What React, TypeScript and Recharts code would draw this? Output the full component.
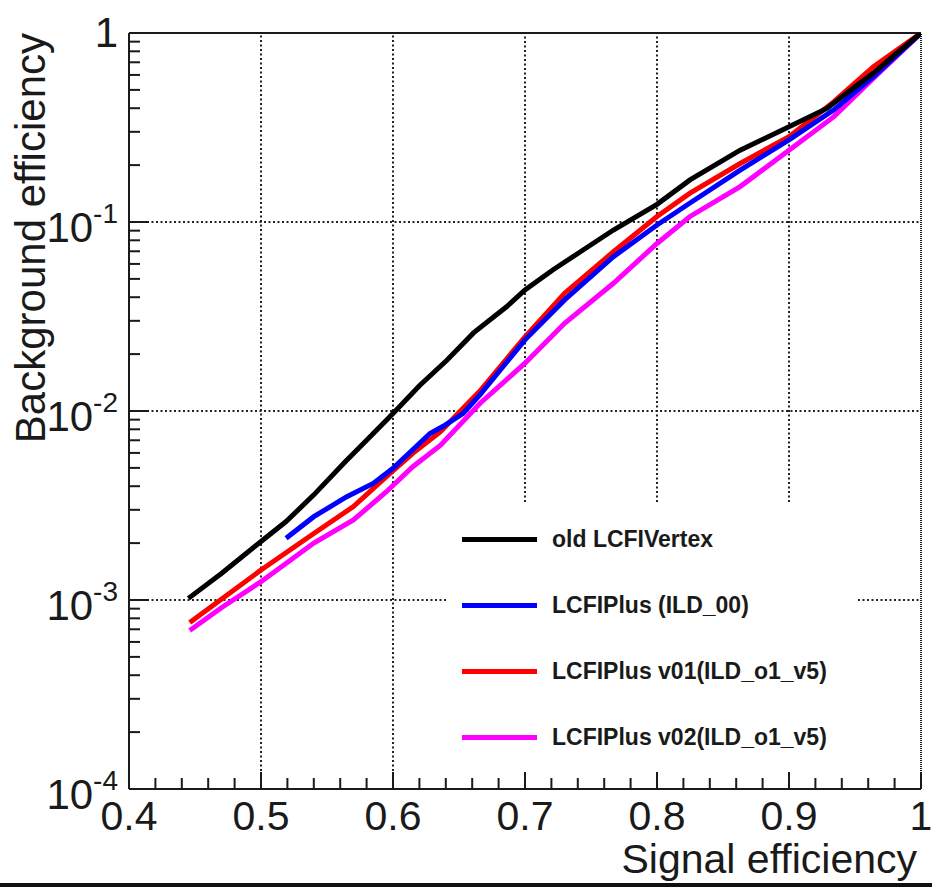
import React from 'react';
import { LineChart, Line, XAxis, YAxis, ReferenceLine, Legend } from 'recharts';

// signal efficiency (x) vs background efficiency (y)
const oldX = [0.445, 0.47, 0.5, 0.519, 0.54, 0.564, 0.58, 0.6, 0.62, 0.641, 0.661, 0.686, 0.7, 0.721, 0.742, 0.767, 0.8, 0.825, 0.863, 0.9, 0.929, 0.95, 0.964, 0.98, 1.0];
const oldY = [0.00102, 0.00138, 0.00204, 0.0026, 0.0036, 0.0054, 0.007, 0.0097, 0.0136, 0.0186, 0.0259, 0.0356, 0.0437, 0.0557, 0.0696, 0.0907, 0.124, 0.167, 0.24, 0.319, 0.4, 0.52, 0.614, 0.765, 1.0];

const ild00X = [0.519, 0.54, 0.565, 0.585, 0.6, 0.628, 0.638, 0.653, 0.666, 0.7, 0.73, 0.767, 0.8, 0.825, 0.863, 0.9, 0.934, 0.964, 1.0];
const ild00Y = [0.00212, 0.00276, 0.00352, 0.00414, 0.00498, 0.0076, 0.0083, 0.0097, 0.0122, 0.0238, 0.0387, 0.0655, 0.0964, 0.126, 0.188, 0.272, 0.392, 0.587, 1.0];

const v01X = [0.446, 0.47, 0.5, 0.54, 0.57, 0.595, 0.615, 0.636, 0.666, 0.7, 0.73, 0.767, 0.8, 0.825, 0.863, 0.9, 0.934, 0.964, 1.0];
const v01Y = [0.00076, 0.00101, 0.00144, 0.00225, 0.00312, 0.0045, 0.00597, 0.00778, 0.0128, 0.0247, 0.042, 0.0696, 0.107, 0.142, 0.204, 0.283, 0.433, 0.664, 1.0];

const v02X = [0.446, 0.47, 0.5, 0.54, 0.57, 0.595, 0.615, 0.636, 0.666, 0.7, 0.73, 0.767, 0.8, 0.825, 0.863, 0.9, 0.934, 0.964, 1.0];
const v02Y = [0.00069, 0.00091, 0.00125, 0.002, 0.00265, 0.00374, 0.00507, 0.0066, 0.011, 0.0179, 0.0291, 0.0474, 0.077, 0.107, 0.154, 0.24, 0.361, 0.576, 1.0];

const legendOrder = ['old LCFIVertex', 'LCFIPlus (ILD_00)', 'LCFIPlus v01(ILD_o1_v5)', 'LCFIPlus v02(ILD_o1_v5)'];

// grid at 0.5, 0.6 runs full height; 0.7-0.9 stop at the legend box top
const xGridFull = [0.5, 0.6];
const xGridShort = [0.7, 0.8, 0.9];
const legendTopY = 0.0033;
const yGrid = [0.1, 0.01, 0.001];
const xTicks = Array.from({ length: 31 }, (_, i) => +(0.4 + i * 0.02).toFixed(2));
const yTicks = [1e-4, 1e-3, 1e-2, 1e-1].flatMap((d) => [1, 2, 3, 4, 5, 6, 7, 8, 9].map((m) => +(m * d).toPrecision(3))).concat([1]);

const pts = (xs: number[], ys: number[]) => xs.map((x, i) => ({ x, y: ys[i] }));

// drawing order: magenta under red under blue under black
const series = [
  { name: 'LCFIPlus v02(ILD_o1_v5)', color: '#ff00ff', data: pts(v02X, v02Y) },
  { name: 'LCFIPlus v01(ILD_o1_v5)', color: '#ff0000', data: pts(v01X, v01Y) },
  { name: 'LCFIPlus (ILD_00)', color: '#0000ff', data: pts(ild00X, ild00Y) },
  { name: 'old LCFIVertex', color: '#000000', data: pts(oldX, oldY) },
];

const font = '"Liberation Sans", Arial, Helvetica, sans-serif';
const ink = '#1a1a1a';
const gridStyle = { stroke: '#222', strokeWidth: 2, strokeDasharray: '2 2.5' };

const isMajorX = (v: number) => Math.abs(v * 10 - Math.round(v * 10)) < 1e-6;
const isMajorY = (v: number) => Math.abs(Math.log10(v) - Math.round(Math.log10(v))) < 1e-6;

const XTick = ({ x, y, payload }: any) => {
  const v = payload.value;
  const major = isMajorX(v);
  return (
    <g>
      <line x1={x} x2={x} y1={y} y2={y - (major ? 17 : 11)} stroke={ink} strokeWidth={2} />
      {major && (
        <text x={x} y={y + 41} textAnchor="middle" fontSize={41} fontFamily={font} fill={ink}>
          {v === 1 ? '1' : v.toFixed(1)}
        </text>
      )}
    </g>
  );
};

const YTick = ({ x, y, payload }: any) => {
  const v = payload.value;
  const major = isMajorY(v);
  const exp = Math.round(Math.log10(v));
  return (
    <g>
      <line x1={x} x2={x + (major ? 20 : 11)} y1={y} y2={y} stroke={ink} strokeWidth={2} />
      {major && (
        <text x={x - 11} y={y + (exp === 0 ? 14 : 20)} textAnchor="end" fontSize={42} fontFamily={font} fill={ink}>
          {exp === 0 ? '1' : '10'}
          {exp !== 0 && (
            <tspan dy={-19} fontSize={28}>
              {String(exp)}
            </tspan>
          )}
        </text>
      )}
    </g>
  );
};

const renderLegend = ({ payload }: any) => {
  const items = legendOrder.map((n) => (payload || []).find((p: any) => p.value === n)).filter(Boolean);
  return (
    <div style={{ position: 'relative', width: 410, height: 268, background: '#fff' }}>
      {items.map((p: any, i: number) => (
        <div
          key={p.value}
          style={{ position: 'absolute', left: 15, top: 36 + i * 66 - 15, height: 30, display: 'flex', alignItems: 'center' }}
        >
          <span style={{ display: 'inline-block', width: 75, height: 5, background: p.color }} />
          <span style={{ marginLeft: 15, fontFamily: font, fontWeight: 'bold', fontSize: 23, color: ink, whiteSpace: 'nowrap' }}>
            {p.value}
          </span>
        </div>
      ))}
    </div>
  );
};

export default function App() {
  return (
    <div style={{ position: 'absolute', left: 0, top: 0, width: 932, height: 887, background: '#fff', overflow: 'hidden' }}>
      <LineChart width={932} height={887} margin={{ top: 33, right: 11, bottom: 68, left: 69 }}>
        <XAxis
          dataKey="x"
          type="number"
          domain={[0.4, 1]}
          ticks={xTicks}
          interval={0}
          allowDataOverflow
          height={30}
          tickSize={0}
          tickMargin={0}
          tickLine={false}
          axisLine={{ stroke: ink, strokeWidth: 2 }}
          tick={<XTick />}
        />
        <YAxis
          dataKey="y"
          type="number"
          scale="log"
          domain={[1e-4, 1]}
          ticks={yTicks}
          interval={0}
          allowDataOverflow
          width={60}
          tickSize={0}
          tickMargin={0}
          tickLine={false}
          axisLine={{ stroke: ink, strokeWidth: 2 }}
          tick={<YTick />}
        />
        {xGridFull.map((v) => (
          <ReferenceLine key={'gx' + v} x={v} {...gridStyle} />
        ))}
        {xGridShort.map((v) => (
          <ReferenceLine key={'gs' + v} segment={[{ x: v, y: legendTopY }, { x: v, y: 1 }]} {...gridStyle} />
        ))}
        {yGrid.map((v) => (
          <ReferenceLine key={'gy' + v} y={v} {...gridStyle} />
        ))}
        <ReferenceLine x={1} stroke={ink} strokeWidth={2} strokeDasharray="1 1" />
        <ReferenceLine y={1} stroke={ink} strokeWidth={2} />
        {series.map((s) => (
          <Line
            key={s.name}
            data={s.data}
            dataKey="y"
            name={s.name}
            type="linear"
            stroke={s.color}
            strokeWidth={5}
            dot={false}
            isAnimationActive={false}
          />
        ))}
        <Legend
          layout="vertical"
          align="center"
          verticalAlign="middle"
          content={renderLegend}
          wrapperStyle={{ left: 447, top: 503, width: 410, height: 268 }}
        />
        <text x={917} y={873} textAnchor="end" fontSize={41} fontFamily={font} fill={ink}>
          Signal efficiency
        </text>
        <text x={45} y={33} textAnchor="end" fontSize={42} fontFamily={font} fill={ink} transform="rotate(-90 45 33)">
          Background efficiency
        </text>
      </LineChart>
      <div style={{ position: 'absolute', left: 0, top: 883, width: 932, height: 4, background: '#111' }} />
    </div>
  );
}
